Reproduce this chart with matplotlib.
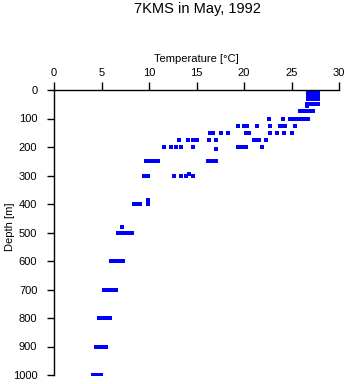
import matplotlib
matplotlib.use("Agg")
import matplotlib.pyplot as plt

# temperature readings (deg C) grouped by sample depth (m)
depths = [0, 10, 20, 30, 50, 57, 75, 100, 125, 150, 175, 200, 208,
          250, 295, 300, 385, 400, 480, 500, 600, 700, 800, 900, 1000]
temps = [
    [26.7, 26.9, 27.1, 27.3, 27.5, 27.7, 27.8],
    [26.7, 26.9, 27.1, 27.4, 27.6, 27.8],
    [26.7, 26.9, 27.1, 27.4, 27.6, 27.8],
    [26.7, 26.9, 27.1, 27.3, 27.5, 27.7, 27.8],
    [26.6, 26.9, 27.2, 27.5, 27.8],
    [26.6],
    [25.9, 26.2, 26.5, 26.8, 27.1, 27.3],
    [22.6, 24.1, 24.8, 25.2, 25.5, 25.8, 26.1, 26.3, 26.7],
    [19.4, 20.0, 20.3, 21.4, 22.7, 23.8, 24.1, 24.3, 25.4],
    [16.4, 16.7, 17.6, 18.3, 20.2, 20.5, 22.7, 23.5, 24.2, 25.0],
    [13.2, 14.1, 14.6, 15.0, 16.3, 17.0, 21.0, 21.3, 21.6, 22.3],
    [11.6, 12.3, 12.8, 13.4, 14.6, 19.4, 19.7, 20.0, 20.2, 21.9],
    [17.1],
    [9.7, 9.9, 10.1, 10.3, 10.5, 10.9, 16.2, 16.5, 16.8, 17.1],
    [14.2],
    [9.5, 9.7, 9.9, 12.6, 13.4, 13.9, 14.6],
    [9.9],
    [8.4, 8.6, 8.9, 9.1, 9.9],
    [7.2],
    [6.7, 7.0, 7.3, 7.6, 7.9, 8.2],
    [6.0, 6.3, 6.6, 7.0, 7.3],
    [5.3, 5.6, 5.9, 6.2, 6.5],
    [4.7, 5.0, 5.3, 5.6, 5.9],
    [4.4, 4.7, 5.0, 5.3, 5.5],
    [4.1, 4.3, 4.7, 4.9],
]

x_ticks = [0, 5, 10, 15, 20, 25, 30]
y_ticks = [0, 100, 200, 300, 400, 500, 600, 700, 800, 900, 1000]

plt.rcParams['font.family'] = ['Liberation Sans', 'DejaVu Sans']

fig = plt.figure(figsize=(3.48, 3.84), dpi=100)
ax = fig.add_axes([54 / 348, 9 / 384, 285 / 348, 285 / 384])

for d, row in zip(depths, temps):
    ax.plot(row, [d] * len(row), linestyle='none', marker='s',
            markersize=2.4, color='#0000ff', markeredgewidth=0,
            antialiased=False)

ax.set_xlim(0, 30)
ax.set_ylim(1000, 0)
ax.set_xticks(x_ticks)
ax.set_yticks(y_ticks)

# axes on top and left only
ax.xaxis.tick_top()
ax.xaxis.set_label_position('top')
ax.spines['bottom'].set_visible(False)
ax.spines['right'].set_visible(False)
for s in ('top', 'left'):
    ax.spines[s].set_linewidth(1.0)
ax.tick_params(axis='x', direction='out', length=6, width=1, pad=3, labelsize=8)
ax.tick_params(axis='y', direction='out', length=5, width=1, pad=7, labelsize=8)

ax.set_xlabel('Temperature [°C]', fontsize=8, labelpad=4)
ax.set_ylabel('Depth [m]', fontsize=8)
ax.yaxis.set_label_coords(-0.137, 0.52)

fig.text(197 / 348, 1 - 9 / 384, '7KMS in May, 1992', ha='center', va='center', fontsize=10.5)

fig.savefig('out.png', dpi=100)
